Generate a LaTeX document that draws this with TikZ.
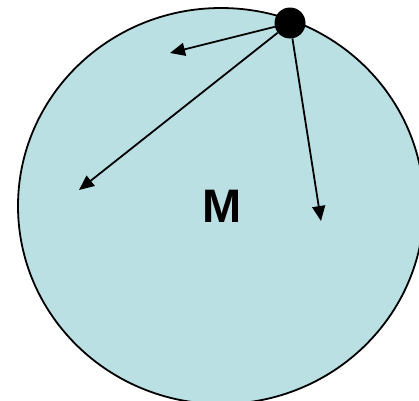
\documentclass[tikz,border=0pt]{standalone}
\usepackage{fontspec}
\setmainfont{Liberation Sans}
\usetikzlibrary{arrows.meta}
\definecolor{fillblue}{RGB}{186,224,227}
\begin{document}
\begin{tikzpicture}[x=1pt,y=-1pt,
  arr/.style={line width=1.8pt,-{Triangle[length=15pt,width=13pt]}},
  blob/.style={circle,fill=black,minimum size=31pt,inner sep=0pt}]
\useasboundingbox (0,0) rectangle (419,400);
\draw[fill=fillblue,line width=1.8pt] (221,206) ellipse [x radius=203, y radius=198];
\node[font=\bfseries\fontsize{47}{50}\selectfont] (m) at (222,206) {M};
\node[blob] (dot) at (290,23) {};
\coordinate (a) at (170,53);
\coordinate (b) at (79,190);
\coordinate (c) at (321,221);
\draw[arr] (dot) -- (a);
\draw[arr] (dot) -- (b);
\draw[arr] (dot) -- (c);
\end{tikzpicture}
\end{document}
